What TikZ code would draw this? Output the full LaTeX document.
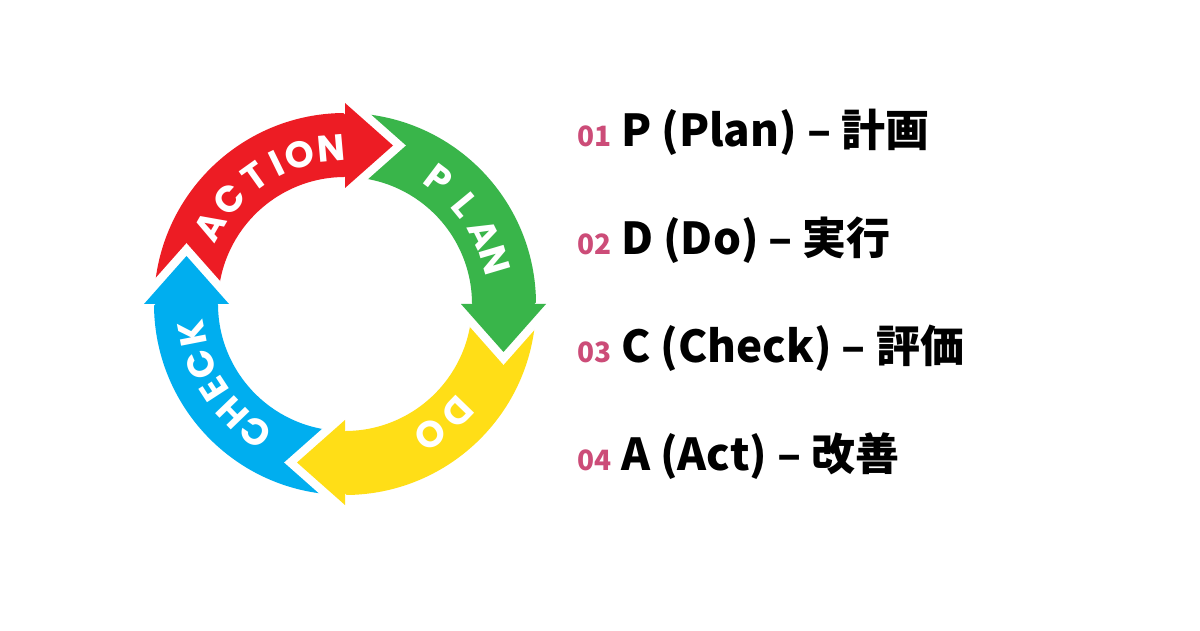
\documentclass[tikz,border=0pt]{standalone}
\usepackage{fontspec}
\newfontfamily\jpfont{Noto Sans CJK JP}
\newfontfamily\popfont{Poppins}
\definecolor{pdred}{HTML}{ED1C24}
\definecolor{pdgreen}{HTML}{39B54A}
\definecolor{pdyellow}{HTML}{FFDE17}
\definecolor{pdblue}{HTML}{00AEEF}
\definecolor{numpink}{HTML}{CC4C78}
\tikzset{
  lbl/.style={font=\popfont\bfseries\fontsize{37}{37}\selectfont, text=white, inner sep=0pt, anchor=center},
  numtxt/.style={anchor=base west, inner sep=0pt, text=numpink, font=\jpfont\bfseries\fontsize{28}{32}\selectfont},
  itemtxt/.style={anchor=base west, inner sep=0pt, text=black, font=\jpfont\bfseries\fontsize{44}{54}\selectfont},
  gapline/.style={white, line width=17pt, miter limit=10}
}
\begin{document}
\begin{tikzpicture}[x=1pt,y=1pt]
\useasboundingbox (0,0) rectangle (1200,630);
\fill[white] (0,0) rectangle (1200,630);
\begin{scope}[shift={(345,326)}]
  % arrow bodies
  \foreach \c/\r in {pdred/0, pdgreen/-90, pdyellow/-180, pdblue/-270} {
    \begin{scope}[rotate=\r]
      \fill[\c] (176.5:191pt) arc[start angle=176.5, end angle=90, radius=191pt]
        -- (90:127pt) arc[start angle=90, end angle=176.5, radius=127pt] -- cycle;
    \end{scope}
  }
  % arrow heads with white gap
  \foreach \c/\r in {pdred/0, pdgreen/-90, pdyellow/-180, pdblue/-270} {
    \begin{scope}[rotate=\r]
      \draw[gapline] (90:201pt) -- (48pt,158.5pt) -- (90:116pt);
      \fill[\c] (90:201pt) -- (48pt,158.5pt) -- (90:116pt) -- cycle;
    \end{scope}
  }
  % labels on the ring
  \foreach \ch/\a [count=\i] in {A/150, C/138, T/125.5, I/116, O/107, N/95,
      P/53, L/39.5, A/26.5, N/16.5, D/-44, O/-57,
      C/235, H/224, E/213, C/203, K/191} {
    \node[lbl, rotate=\a-90] (l\i) at (\a:156pt) {\ch};
  }
\end{scope}
% list on the right
\node[numtxt] (n1) at (577,483) {01};
\node[itemtxt] (t1) at (621,483) {P (Plan) – 計画};
\node[numtxt] (n2) at (577,375) {02};
\node[itemtxt] (t2) at (621,375) {D (Do) – 実行};
\node[numtxt] (n3) at (577,267) {03};
\node[itemtxt] (t3) at (621,267) {C (Check) – 評価};
\node[numtxt] (n4) at (577,160) {04};
\node[itemtxt] (t4) at (621,160) {A (Act) – 改善};
\end{tikzpicture}
\end{document}
